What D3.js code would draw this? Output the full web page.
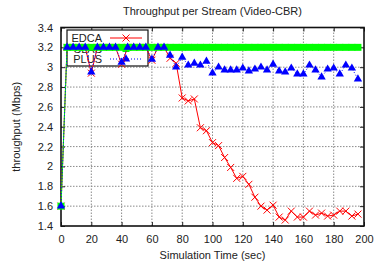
<!DOCTYPE html>
<html>
<head>
<meta charset="utf-8">
<script src="https://cdn.jsdelivr.net/npm/d3@7"></script>
<style>
    body { margin: 0; background: #fff; }
    text { font-family: "Liberation Sans", Arial, sans-serif; fill: #222; }
</style>
</head>
<body>
<div id="chart"></div>
<script>
// simulation time, one sample every 4 sec
var times = d3.range(0, 200, 4);

var edca = [1.6, 3.2, 3.2, 3.2, 3.2, 2.94, 3.2, 3.2, 3.2, 3.2,
    3.03, 3.2, 3.2, 3.2, 3.2, 3.07, 3.2, 3.2, 3.09, 3.04,
    2.69, 2.66, 2.68, 2.39, 2.36, 2.24, 2.21, 2.09, 1.99, 1.88,
    1.90, 1.82, 1.69, 1.60, 1.56, 1.61, 1.49, 1.46, 1.55, 1.49,
    1.49, 1.55, 1.51, 1.53, 1.50, 1.51, 1.55, 1.55, 1.50, 1.52];

var slas = [1.6, 3.2, 3.2, 3.2, 3.2, 3.2, 3.2, 3.2, 3.2, 3.2,
    3.2, 3.2, 3.2, 3.2, 3.2, 3.2, 3.2, 3.2, 3.2, 3.2,
    3.2, 3.2, 3.2, 3.2, 3.2, 3.2, 3.2, 3.2, 3.2, 3.2,
    3.2, 3.2, 3.2, 3.2, 3.2, 3.2, 3.2, 3.2, 3.2, 3.2,
    3.2, 3.2, 3.2, 3.2, 3.2, 3.2, 3.2, 3.2, 3.2, 3.2];

var plus = [1.6, 3.2, 3.2, 3.2, 3.2, 2.95, 3.2, 3.2, 3.2, 3.2,
    3.05, 3.2, 3.2, 3.2, 3.2, 3.08, 3.2, 3.2, 3.12, 3.0,
    3.10, 3.02, 3.04, 3.02, 3.06, 2.94, 3.0, 2.97, 2.97, 2.97,
    2.99, 2.96, 2.98, 3.0, 2.97, 3.03, 2.96, 2.95, 2.99, 2.93,
    2.93, 3.02, 2.97, 2.90, 2.98, 2.99, 2.93, 3.02, 2.99, 2.88];

var seriesNames = ["EDCA", "SLAS", "PLUS"];
var xTicks = d3.range(0, 201, 20);
var yTicks = [1.4, 1.6, 1.8, 2, 2.2, 2.4, 2.6, 2.8, 3, 3.2, 3.4];

var width = 379, height = 262;
var margin = { top: 27.5, right: 15, bottom: 36, left: 61 };
var innerW = width - margin.left - margin.right;
var innerH = height - margin.top - margin.bottom;

var svg = d3.select('#chart').append('svg')
    .attr('width', width)
    .attr('height', height);

var xScale = d3.scaleLinear().domain([0, 200]).range([margin.left, margin.left + innerW]);
var yScale = d3.scaleLinear().domain([1.4, 3.4]).range([margin.top + innerH, margin.top]);

// grid
var grid = svg.append('g').attr('class', 'grid')
    .attr('stroke', '#8a8a8a')
    .attr('stroke-width', 1)
    .attr('stroke-dasharray', '1.5,1.5');
grid.selectAll('line.gx').data(xTicks.slice(1, -1)).enter().append('line')
    .attr('x1', function(d) { return xScale(d); })
    .attr('x2', function(d) { return xScale(d); })
    .attr('y1', yScale(1.4))
    .attr('y2', yScale(3.4));
grid.selectAll('line.gy').data(yTicks.slice(1, -1)).enter().append('line')
    .attr('x1', xScale(0))
    .attr('x2', xScale(200))
    .attr('y1', function(d) { return yScale(d); })
    .attr('y2', function(d) { return yScale(d); });

// axes (inward ticks, mirrored)
var xAxis = d3.axisBottom(xScale).tickValues(xTicks).tickSizeInner(-4).tickSizeOuter(0).tickPadding(9);
var yAxis = d3.axisLeft(yScale).tickValues(yTicks).tickSizeInner(-4).tickSizeOuter(0).tickPadding(8)
    .tickFormat(function(d) { return d3.format('')(+d.toFixed(1)); });

svg.append('g')
    .attr('transform', 'translate(0,' + yScale(1.4) + ')')
    .call(xAxis);
svg.append('g')
    .attr('transform', 'translate(' + xScale(0) + ',0)')
    .call(yAxis);
svg.append('g')
    .attr('transform', 'translate(0,' + yScale(3.4) + ')')
    .call(d3.axisTop(xScale).tickValues(xTicks).tickSizeInner(-4).tickSizeOuter(0).tickFormat(''));
svg.append('g')
    .attr('transform', 'translate(' + xScale(200) + ',0)')
    .call(d3.axisRight(yScale).tickValues(yTicks).tickSizeInner(-4).tickSizeOuter(0).tickFormat(''));

svg.selectAll('.domain').remove();
svg.selectAll('.tick line').attr('stroke', '#222');
svg.selectAll('.tick text')
    .style('font-family', '"Liberation Sans", Arial, sans-serif')
    .style('font-size', '11px')
    .attr('fill', '#222');

svg.append('rect')
    .attr('x', xScale(0))
    .attr('y', yScale(3.4))
    .attr('width', xScale(200) - xScale(0))
    .attr('height', yScale(1.4) - yScale(3.4))
    .attr('fill', 'none')
    .attr('stroke', '#111')
    .attr('stroke-width', 1.6);

// titles
svg.append('text')
    .attr('x', (xScale(0) + xScale(200)) / 2)
    .attr('y', 15)
    .attr('text-anchor', 'middle')
    .style('font-size', '11px')
    .text('Throughput per Stream (Video-CBR)');
svg.append('text')
    .attr('x', (xScale(0) + xScale(200)) / 2)
    .attr('y', 259)
    .attr('text-anchor', 'middle')
    .style('font-size', '11px')
    .text('Simulation Time (sec)');
svg.append('text')
    .attr('transform', 'translate(20,' + ((yScale(1.4) + yScale(3.4)) / 2) + ') rotate(-90)')
    .attr('text-anchor', 'middle')
    .style('font-size', '11px')
    .text('throughput (Mbps)');

// legend box (drawn before the data, data goes over it)
var legend = svg.append('g');
legend.append('rect')
    .attr('x', 67).attr('y', 30)
    .attr('width', 81).attr('height', 36)
    .attr('fill', '#fff')
    .attr('stroke', '#111')
    .attr('stroke-width', 1.2);

var crossPath = function(s) {
    return 'M' + (-s) + ',' + (-s) + 'L' + s + ',' + s + 'M' + (-s) + ',' + s + 'L' + s + ',' + (-s);
};
var triangle = d3.symbol().type(d3.symbolTriangle).size(30);
var square = d3.symbol().type(d3.symbolSquare).size(49);

var legendY = [38, 48.5, 59];
legend.selectAll('text').data(seriesNames).enter().append('text')
    .attr('x', 102)
    .attr('y', function(d, i) { return legendY[i] + 4; })
    .attr('text-anchor', 'end')
    .style('font-size', '11px')
    .text(function(d) { return d; });

legend.append('line').attr('x1', 110).attr('x2', 142).attr('y1', legendY[0]).attr('y2', legendY[0])
    .attr('stroke', '#ff0000').attr('stroke-width', 1);
legend.append('path').attr('d', crossPath(3.5)).attr('transform', 'translate(126,' + legendY[0] + ')')
    .attr('stroke', '#ff0000').attr('stroke-width', 1).attr('fill', 'none');
legend.append('line').attr('x1', 110).attr('x2', 142).attr('y1', legendY[1]).attr('y2', legendY[1])
    .attr('stroke', '#00ff00').attr('stroke-width', 1);
legend.append('path').attr('d', square).attr('transform', 'translate(126,' + legendY[1] + ')')
    .attr('fill', '#00ff00');
legend.append('line').attr('x1', 110).attr('x2', 142).attr('y1', legendY[2]).attr('y2', legendY[2])
    .attr('stroke', '#0000ff').attr('stroke-width', 1).attr('stroke-dasharray', '1,2');
legend.append('path').attr('d', triangle).attr('transform', 'translate(126,' + legendY[2] + ')')
    .attr('fill', '#0000ff');

// data
var line = d3.line()
    .x(function(d) { return xScale(d.x); })
    .y(function(d) { return yScale(d.y); });

var toPts = function(vals) {
    return vals.map(function(v, i) { return { x: times[i], y: v }; });
};
var edcaPts = toPts(edca), slasPts = toPts(slas), plusPts = toPts(plus);

var plot = svg.append('g');

plot.append('path')
    .attr('d', line(edcaPts))
    .attr('fill', 'none')
    .attr('stroke', '#ff0000')
    .attr('stroke-width', 1);
plot.selectAll('path.edca').data(edcaPts).enter().append('path')
    .attr('class', 'edca')
    .attr('d', crossPath(3.5))
    .attr('transform', function(d) { return 'translate(' + xScale(d.x) + ',' + yScale(d.y) + ')'; })
    .attr('stroke', '#ff0000')
    .attr('stroke-width', 1)
    .attr('fill', 'none');

plot.append('path')
    .attr('d', line(slasPts))
    .attr('fill', 'none')
    .attr('stroke', '#00ff00')
    .attr('stroke-width', 1);
plot.selectAll('path.slas').data(slasPts).enter().append('path')
    .attr('class', 'slas')
    .attr('d', square)
    .attr('transform', function(d) { return 'translate(' + xScale(d.x) + ',' + yScale(d.y) + ')'; })
    .attr('fill', '#00ff00');

plot.append('path')
    .attr('d', line(plusPts))
    .attr('fill', 'none')
    .attr('stroke', '#0000ff')
    .attr('stroke-width', 1)
    .attr('stroke-dasharray', '1,2');
plot.selectAll('path.plus').data(plusPts).enter().append('path')
    .attr('class', 'plus')
    .attr('d', triangle)
    .attr('transform', function(d) { return 'translate(' + xScale(d.x) + ',' + yScale(d.y) + ')'; })
    .attr('fill', '#0000ff');
</script>
</body>
</html>
